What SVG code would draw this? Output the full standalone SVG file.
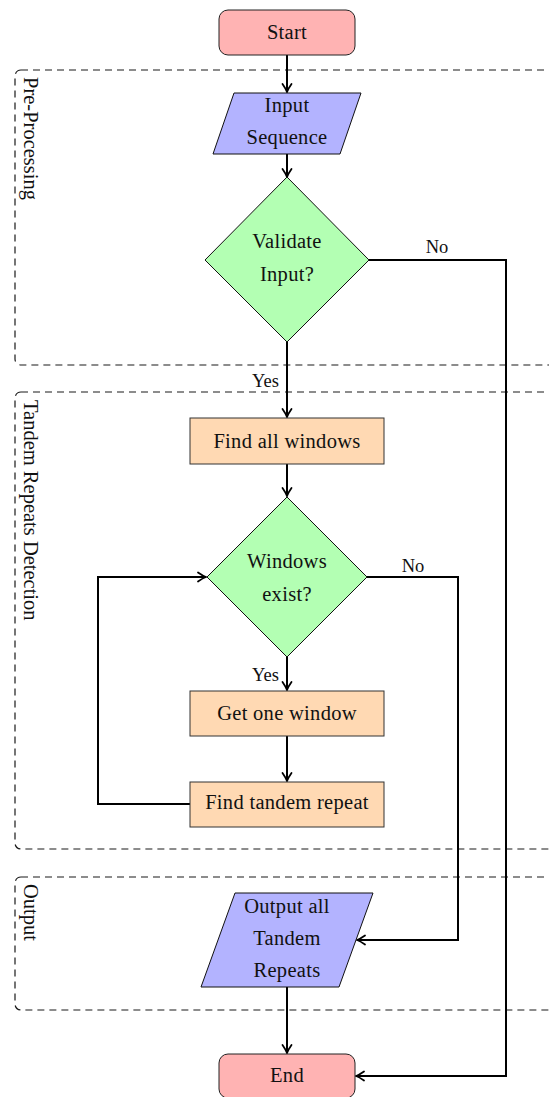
<svg xmlns="http://www.w3.org/2000/svg" width="549" height="1097" viewBox="0 0 549 1097">
<style>
  .t { font-family: "Liberation Serif", "DejaVu Serif", serif; font-size: 20.5px; letter-spacing: 0.3px; fill: #111; text-anchor: middle; }
  .lbl { font-family: "Liberation Serif", "DejaVu Serif", serif; font-size: 20.5px; fill: #111; }
  .yn { font-family: "Liberation Serif", "DejaVu Serif", serif; font-size: 18.5px; fill: #111; }
  .region { fill: none; stroke: #1a1a1a; stroke-width: 1.2; stroke-dasharray: 7 5; }
  .term { fill: #ffb3b3; stroke: #222; stroke-width: 1; }
  .io { fill: #b3b3ff; stroke: #111; stroke-width: 1; }
  .dec { fill: #b3ffb3; stroke: #111; stroke-width: 1; }
  .proc { fill: #ffd9b3; stroke: #333; stroke-width: 1; }
  .conn { fill: none; stroke: #000; stroke-width: 2; marker-end: url(#arr); }
</style>
<defs>
  <marker id="arr" markerUnits="userSpaceOnUse" markerWidth="14" markerHeight="14" viewBox="-10 -7 14 14" refX="0" refY="0" orient="auto">
    <path d="M-8,-4.5 Q-3,-1 0,0 Q-3,1 -8,4.5" fill="none" stroke="#000" stroke-width="1.8" stroke-linecap="round"/>
  </marker>
</defs>

<g id="region-preprocessing">
  <rect class="region" x="15" y="70" width="560" height="295" rx="6"/>
  <text class="lbl" transform="translate(24,77) rotate(90)">Pre-Processing</text>
</g>
<g id="region-tandem">
  <rect class="region" x="15" y="392" width="560" height="457" rx="6"/>
  <text class="lbl" transform="translate(24,400) rotate(90)">Tandem Repeats Detection</text>
</g>
<g id="region-output">
  <rect class="region" x="15" y="877" width="560" height="133" rx="6"/>
  <text class="lbl" transform="translate(24,884) rotate(90)">Output</text>
</g>

<g id="connectors">
  <path class="conn" d="M287,55 V92"/>
  <path class="conn" d="M287,154 V177"/>
  <path class="conn" d="M287,342 V417"/>
  <path class="conn" d="M369,260 H506 V1076 H356"/>
  <path class="conn" d="M287,464 V496"/>
  <path class="conn" d="M287,657 V690"/>
  <path class="conn" d="M287,736 V781"/>
  <path class="conn" d="M190,804 H98 V577 H206"/>
  <path class="conn" d="M367,577 H458 V940 H357"/>
  <path class="conn" d="M287,987 V1053"/>
  <text class="yn" x="279" y="387" text-anchor="end">Yes</text>
  <text class="yn" x="437" y="253" text-anchor="middle">No</text>
  <text class="yn" x="279" y="681" text-anchor="end">Yes</text>
  <text class="yn" x="413" y="572" text-anchor="middle">No</text>
</g>

<g id="start">
  <rect class="term" x="219" y="10" width="136" height="45" rx="9"/>
  <text class="t" x="287" y="39">Start</text>
</g>
<g id="input">
  <polygon class="io" points="234,93 361,93 340,154 213,154"/>
  <text class="t" x="287" y="112">Input</text>
  <text class="t" x="287" y="144">Sequence</text>
</g>
<g id="validate">
  <polygon class="dec" points="287,177 369,260 287,342 205,260"/>
  <text class="t" x="287" y="248">Validate</text>
  <text class="t" x="287" y="281">Input?</text>
</g>
<g id="find-all">
  <rect class="proc" x="190" y="418" width="194" height="46"/>
  <text class="t" x="287" y="448">Find all windows</text>
</g>
<g id="windows-exist">
  <polygon class="dec" points="287,497 367,577 287,657 207,577"/>
  <text class="t" x="287" y="568">Windows</text>
  <text class="t" x="287" y="601">exist?</text>
</g>
<g id="get-one">
  <rect class="proc" x="190" y="691" width="194" height="45"/>
  <text class="t" x="287" y="720">Get one window</text>
</g>
<g id="find-tandem">
  <rect class="proc" x="190" y="782" width="194" height="45"/>
  <text class="t" x="287" y="809">Find tandem repeat</text>
</g>
<g id="output">
  <polygon class="io" points="235,893 373,893 339,987 201,987"/>
  <text class="t" x="287" y="913">Output all</text>
  <text class="t" x="287" y="945">Tandem</text>
  <text class="t" x="287" y="977">Repeats</text>
</g>
<g id="end">
  <rect class="term" x="219" y="1054" width="136" height="44" rx="9"/>
  <text class="t" x="287" y="1082">End</text>
</g>
</svg>
